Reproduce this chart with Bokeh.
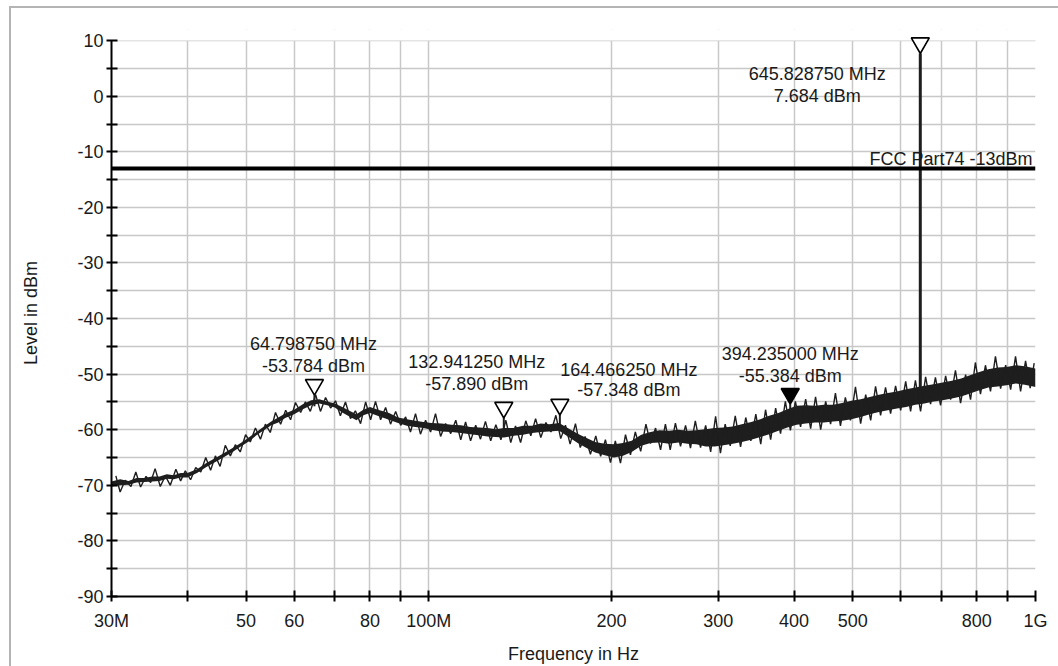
import numpy as np
from bokeh.plotting import figure
from bokeh.models import Range1d, FixedTicker, Span, Label, BoxAnnotation, PrintfTickFormatter
from bokeh.embed import file_html
from bokeh.resources import INLINE

# ---- sweep trace: frequency (MHz) with upper / lower edge of the noise band (dBm)
freq_mhz = [30, 31, 32, 33, 34, 35, 36, 37, 38, 39,
            40, 41.5, 43, 44.5, 46, 47.5, 49, 50.5, 52, 53.5,
            55, 56.5, 58, 60, 62, 64, 66, 68, 70, 72,
            74, 76, 78, 80, 83, 86, 89, 92, 95, 98,
            101, 105, 109, 113, 117, 121, 125, 129, 133, 138,
            143, 148, 153, 158, 164, 170, 176, 182, 188, 195,
            202, 209, 216, 224, 232, 240, 249, 258, 267, 276,
            286, 296, 306, 317, 328, 340, 352, 364, 377, 390,
            404, 418, 433, 448, 464, 480, 497, 515, 533, 552,
            571, 591, 612, 634, 656, 679, 703, 728, 754, 780,
            808, 836, 866, 896, 928, 960, 1000]
level_hi = [-69.3, -68.9, -69.2, -68.7, -68.7, -68.4, -68.4, -68.0, -68.2, -67.8,
            -67.8, -67.1, -66.0, -65.1, -64.2, -63.3, -62.4, -61.4, -60.4, -59.4,
            -58.5, -57.8, -57.1, -56.4, -55.4, -54.7, -54.5, -54.9, -55.3, -55.9,
            -56.6, -57.2, -56.4, -55.9, -56.5, -57.0, -57.8, -58.1, -58.4, -58.6,
            -58.8, -58.9, -59.1, -59.2, -59.5, -59.6, -59.7, -59.9, -59.7, -59.7,
            -59.3, -59.3, -58.9, -59.0, -58.8, -59.8, -60.7, -61.5, -62.2, -62.5,
            -62.6, -62.4, -62.0, -60.9, -60.4, -60.1, -60.2, -60.0, -60.2, -60.1,
            -59.9, -59.7, -59.6, -59.4, -59.0, -58.6, -58.1, -57.5, -57.0, -56.3,
            -55.7, -55.6, -55.7, -55.5, -55.5, -55.2, -54.8, -54.5, -54.1, -53.7,
            -53.4, -53.1, -52.7, -52.4, -52.1, -51.8, -51.5, -51.2, -50.8, -50.2,
            -49.6, -49.1, -48.8, -48.7, -48.4, -48.6, -49.0]
level_lo = [-70.2, -70.0, -69.9, -69.5, -69.4, -69.3, -69.2, -68.8, -68.9, -68.6,
            -68.6, -67.8, -66.7, -65.8, -64.9, -64.0, -63.0, -62.1, -61.0, -60.1,
            -59.2, -58.7, -57.9, -57.2, -56.3, -55.6, -55.3, -55.6, -56.0, -56.9,
            -57.6, -58.3, -57.4, -57.0, -57.6, -58.2, -58.8, -59.3, -59.5, -59.7,
            -60.0, -60.3, -60.4, -60.6, -60.8, -61.0, -61.2, -61.3, -61.4, -61.1,
            -60.9, -60.6, -60.4, -60.3, -60.2, -61.3, -62.4, -63.3, -64.1, -64.6,
            -65.0, -64.7, -64.0, -62.9, -62.4, -62.3, -62.5, -62.3, -62.5, -62.6,
            -63.0, -63.0, -62.8, -62.5, -62.2, -61.8, -61.3, -60.8, -60.2, -59.6,
            -59.1, -58.9, -58.7, -58.7, -58.5, -58.4, -58.1, -57.7, -57.2, -56.8,
            -56.5, -56.2, -55.9, -55.5, -55.3, -54.9, -54.7, -54.4, -54.0, -53.5,
            -52.9, -52.4, -52.2, -52.0, -51.7, -51.9, -52.3]

# noise peaks poking above the band
peak_freq = [30.5, 31.6, 32.9, 34.2, 35.4, 36.8, 38.3, 39.7, 41.3, 42.9,
             44.5, 46.2, 48.0, 49.9, 51.8, 53.8, 55.9, 58.1, 60.3, 62.6,
             65.1, 67.6, 70.2, 72.9, 75.7, 78.7, 81.7, 84.9, 88.2, 91.6,
             95.1, 98.8, 102.6, 106.6, 110.8, 115, 119.5, 124, 129, 134,
             139, 144.5, 150, 156, 162, 168, 174.5, 181, 188.5, 195.5,
             203, 211, 219, 228, 236.5, 245.5, 255, 265, 275, 286,
             297, 308, 320, 333, 346, 359, 373, 387, 402, 418,
             434, 451, 468, 486, 505, 525, 545, 566, 588, 611,
             634, 659, 684, 711, 738, 767, 796, 827, 859, 893,
             927, 963, 995]
peak_top = [-68.3, -69.1, -67.6, -68.4, -67.0, -68.3, -67.1, -67.4, -66.8, -65.0,
            -64.7, -62.8, -62.7, -60.9, -59.7, -59.0, -56.9, -56.5, -55.1, -55.0,
            -53.7, -54.2, -54.8, -55.0, -56.6, -55.0, -54.9, -56.0, -56.7, -57.7,
            -57.1, -58.3, -57.1, -58.9, -58.3, -58.6, -59.2, -58.5, -59.1, -58.3,
            -59.3, -58.4, -58.0, -58.7, -57.4, -59.2, -58.9, -61.2, -61.1, -61.8,
            -62.0, -60.9, -60.4, -59.0, -59.7, -59.0, -58.8, -59.2, -58.4, -59.2,
            -57.6, -59.0, -57.5, -57.8, -57.2, -56.4, -56.1, -54.9, -54.9, -54.5,
            -54.1, -54.9, -53.4, -54.2, -52.3, -53.7, -52.2, -52.4, -52.1, -51.3,
            -51.1, -50.5, -50.6, -50.3, -49.3, -50.1, -47.9, -48.4, -46.8, -48.4,
            -46.8, -47.6, -48.0]

# noise dips below the band
dip_freq = [31, 32.3, 33.5, 34.8, 36.1, 37.5, 39, 40.5, 42.1, 43.7,
            45.3, 47.1, 48.9, 50.8, 52.8, 54.8, 57, 59.2, 61.5, 63.8,
            66.3, 68.9, 71.5, 74.3, 77.2, 80.2, 83.3, 86.5, 89.9, 93.3,
            96.9, 100.7, 104.6, 108.7, 112.9, 117.2, 121.7, 126.5, 131.5, 136.5,
            141.7, 147.3, 153, 159, 165, 171, 177.7, 184.7, 192, 199.3,
            207, 215, 223.5, 232, 241, 250, 260, 270, 280.5, 291.5,
            302.5, 314, 326.5, 339.5, 352.5, 366, 380, 394.5, 410, 426,
            442.5, 459.5, 477, 495.5, 515, 535, 555.5, 577, 599.5, 622.5,
            646.5, 671.5, 697.5, 724.5, 752.5, 781.5, 811.5, 843, 876, 910,
            945, 980]
dip_bottom = [-71.2, -70.2, -70.3, -69.5, -70.2, -70.0, -69.2, -69.0, -67.6, -67.3,
              -66.6, -64.7, -64.0, -62.2, -61.7, -60.5, -59.0, -58.2, -56.9, -56.7,
              -56.7, -56.1, -57.5, -58.0, -58.9, -58.2, -58.2, -59.0, -59.2, -60.4,
              -60.8, -60.4, -61.2, -60.7, -61.8, -62.0, -61.7, -62.0, -61.8, -62.3,
              -62.3, -61.1, -61.4, -60.4, -61.6, -62.6, -63.2, -64.4, -64.8, -65.9,
              -66.0, -64.5, -63.9, -62.5, -63.6, -63.6, -63.0, -63.3, -63.2, -64.0,
              -64.2, -62.9, -63.1, -62.0, -62.6, -61.8, -60.7, -60.1, -59.5, -59.8,
              -60.0, -59.0, -59.3, -58.3, -58.9, -58.3, -57.4, -57.1, -56.5, -56.7,
              -56.7, -55.4, -55.6, -54.6, -55.2, -54.6, -53.6, -53.1, -52.6, -52.8,
              -53.1, -52.5]

# ---- markers
mk_freq = [64.79875, 132.94125, 164.46625, 394.235, 645.82875]
mk_level = [-53.784, -57.890, -57.348, -55.384, 7.684]
mk_filled = [False, False, False, True, False]

# ---- limit line
limit_level = -13
limit_name = "FCC Part74 -13dBm"

# ---- axes
x_tick_values = [30, 50, 60, 80, 100, 200, 300, 400, 500, 800, 1000]
x_tick_labels = ["30M", "50", "60", "80", "100M", "200", "300", "400", "500", "800", "1G"]
x_minor_values = [40, 70, 90, 600, 700, 900]
y_tick_values = [-90, -80, -70, -60, -50, -40, -30, -20, -10, 0, 10]
y_minor_values = [-85, -75, -65, -55, -45, -35, -25, -15, -5, 5]

FONT = "Liberation Sans"
INK = "#1e1e1e"
TXT = "#1a1a1a"
GRID = "#c8c8c8"
PANEL = "#b4b4b4"
FS = "18px"

W, H = 1058, 666
Y0, Y1, Y_TOP = -90, 10, 12          # a little headroom above the scale for marker 5
B_LEFT, B_RIGHT, B_TOP, B_BOTTOM = 111, 23, 29, 70
FRAME_H = H - B_TOP - B_BOTTOM
PX_PER_DB = FRAME_H / (Y_TOP - Y0)

p = figure(width=W, height=H, x_axis_type="log",
           x_range=Range1d(30, 1000), y_range=Range1d(Y0, Y_TOP),
           output_backend="svg", toolbar_location=None,
           min_border_left=B_LEFT, min_border_right=B_RIGHT,
           min_border_top=B_TOP, min_border_bottom=B_BOTTOM)
p.outline_line_color = None
p.background_fill_color = "white"
p.border_fill_color = None
# thin panel frame (left and top edges) behind the transparent border area
p.styles = {
    "background-color": "white",
    "background-image": f"linear-gradient({PANEL}, {PANEL}), linear-gradient({PANEL}, {PANEL})",
    "background-size": "2px 100%, 100% 2px",
    "background-position": "9px 6px, 9px 6px",
    "background-repeat": "no-repeat",
}

# ticks and grid
xt = FixedTicker(ticks=x_tick_values, minor_ticks=x_minor_values)
yt = FixedTicker(ticks=y_tick_values, minor_ticks=y_minor_values)
p.xaxis.ticker = xt
p.yaxis.ticker = yt
p.xgrid.ticker = xt
p.ygrid.ticker = yt
p.xaxis.major_label_overrides = dict(zip(x_tick_values, x_tick_labels))
p.yaxis.formatter = PrintfTickFormatter(format="%d")
p.yaxis.bounds = (Y0, Y1)
for g in (p.xgrid, p.ygrid):
    g.grid_line_color = GRID
    g.grid_line_width = 1.5
    g.minor_grid_line_color = GRID
    g.minor_grid_line_width = 1.5
# blank out the grid in the headroom strip above the scale
p.add_layout(BoxAnnotation(bottom=Y1, fill_color="white", fill_alpha=1,
                           line_alpha=0, level="underlay"))

for ax in (p.xaxis[0], p.yaxis[0]):
    ax.axis_line_color = "black"
    ax.axis_line_width = 2
    ax.major_tick_line_color = "black"
    ax.minor_tick_line_color = "black"
    ax.major_tick_line_width = 2
    ax.minor_tick_line_width = 2
    ax.major_tick_in = 6
    ax.major_tick_out = 5
    ax.minor_tick_in = 6
    ax.minor_tick_out = 5
    ax.major_label_text_font = FONT
    ax.major_label_text_font_size = FS
    ax.major_label_text_color = TXT
    ax.axis_label_text_font = FONT
    ax.axis_label_text_font_size = FS
    ax.axis_label_text_font_style = "normal"
    ax.axis_label_text_color = TXT

p.xaxis.axis_label = "Frequency in Hz"
p.yaxis.axis_label = "Level in dBm"
p.xaxis.major_label_standoff = 9
p.xaxis.axis_label_standoff = 10
p.yaxis.major_label_standoff = 3
p.yaxis.axis_label_standoff = 33

# limit line
p.add_layout(Span(location=limit_level, dimension="width", line_color="black", line_width=4))
p.add_layout(Label(x=1000, y=limit_level, x_offset=-3, y_offset=9, text=limit_name,
                   text_align="right", text_baseline="middle",
                   text_font=FONT, text_font_size=FS, text_color=TXT))

# sweep trace: solid band plus the jagged peak/dip readings joined in frequency order
p.varea(x=freq_mhz, y1=level_lo, y2=level_hi, color=INK)
jag = sorted(zip(peak_freq + dip_freq, peak_top + dip_bottom))
p.line([f for f, _ in jag], [v for _, v in jag], line_color=INK, line_width=1.4)

# carrier line (marker 5)
p.segment(x0=[mk_freq[4]], y0=[-54.0], x1=[mk_freq[4]], y1=[mk_level[4]],
          line_color=INK, line_width=3)

# marker stems and triangles (tip of the triangle sits on the marker level)
TRI = 18
tip_db = (TRI / 2) * np.sqrt(3) * 2 / 3 / PX_PER_DB
p.segment(x0=mk_freq[:4], y0=mk_level[:4], x1=mk_freq[:4], y1=[v - 2 for v in mk_level[:4]],
          line_color=INK, line_width=2)
p.scatter(x=mk_freq, y=[v + tip_db for v in mk_level], marker="inverted_triangle", size=TRI,
          line_color="black", line_width=1.6,
          fill_color=["black" if f else "white" for f in mk_filled])

# marker readouts (two lines each)
lab_dx = [-1, -27, 69, 0, -103]
lab_dy1 = [51.6, 56, 45.4, 50.5, -20.8]
lab_dy2 = [29.6, 34.5, 24.7, 28.5, -43]
for f, v, dx, d1, d2 in zip(mk_freq, mk_level, lab_dx, lab_dy1, lab_dy2):
    for txt, dy in ((f"{f:.6f} MHz", d1), (f"{v:.3f} dBm", d2)):
        p.add_layout(Label(x=f, y=v, x_offset=dx, y_offset=dy, text=txt,
                           text_align="center", text_baseline="middle",
                           text_font=FONT, text_font_size=FS, text_color=TXT))

open("out.html", "w").write(file_html(p, INLINE))
